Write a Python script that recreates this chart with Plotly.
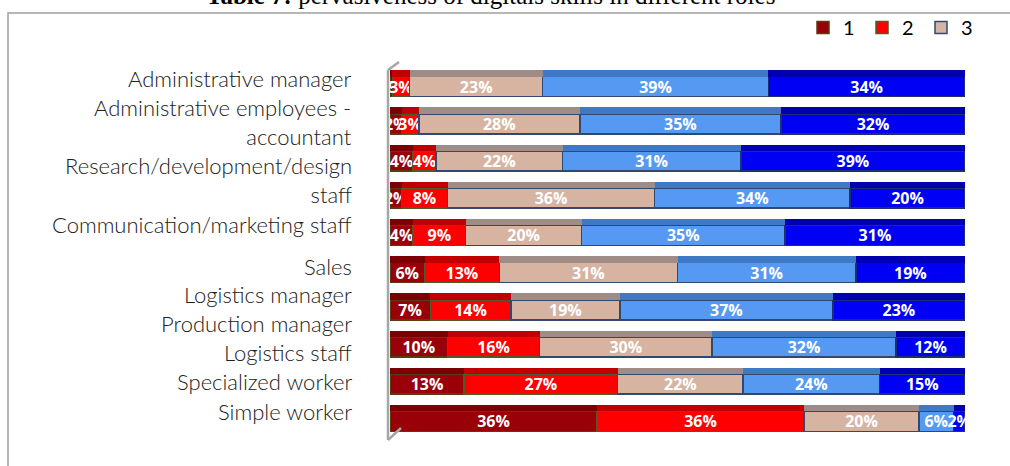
import plotly.graph_objects as go

categories = [
    "Administrative manager",
    "Administrative employees -<br>accountant",
    "Research/development/design<br>staff",
    "Communication/marketing staff",
    "Sales",
    "Logistics manager",
    "Production manager",
    "Logistics staff",
    "Specialized worker",
    "Simple worker",
]
series_names = ["1", "2", "3", "4", "5"]
s1 = [0.4, 2, 4, 2, 4, 6, 7, 10, 13, 36]
s2 = [3, 3, 4, 8, 9, 13, 14, 16, 27, 36]
s3 = [23, 28, 22, 36, 20, 31, 19, 30, 22, 20]
s4 = [39, 35, 31, 34, 35, 31, 37, 32, 24, 6]
s5 = [34, 32, 39, 20, 31, 19, 23, 12, 15, 2]
values = [s1, s2, s3, s4, s5]

colors = ["#990008", "#FF0000", "#D7B4A2", "#5599F2", "#0000F5"]
top_colors = ["#7A0006", "#C00000", "#A08C86", "#3F78C4", "#0000B0"]
line_colors = ["#5C3A14", "#4F5A2A", "#2F4A6E", "#2F4A6E", "#1F2F6E"]
show_leg = [True, True, True, False, False]

W, H = 1010, 466
L, R, T, B = 390, 965, 68, 440

def px(x):
    return (x - L) / (R - L)

def py(y):
    return (B - y) / (B - T)

ids = list(range(len(categories)))

fig = go.Figure()
# top faces of the 3-D bars (thin strips drawn on an overlaid axis)
for name, vals, c in zip(series_names, values, top_colors):
    fig.add_trace(go.Bar(
        y=ids, x=vals, name=name, orientation="h", yaxis="y2",
        marker=dict(color=c, line=dict(color=c, width=0)),
        width=0.17, offset=-0.44, showlegend=False, hoverinfo="skip",
    ))
# front faces
for name, vals, c, lc, sl in zip(series_names, values, colors, line_colors, show_leg):
    fig.add_trace(go.Bar(
        y=ids, x=vals, name=name, orientation="h",
        marker=dict(color=c, line=dict(color=lc, width=1.5)),
        text=vals, texttemplate="%{text:.0f}%", textposition="inside",
        insidetextanchor="middle", textangle=0, constraintext="none",
        textfont=dict(family="Open Sans", size=16, color="white", weight="bold"),
        showlegend=sl, cliponaxis=False,
    ))

# category labels, placed as in the reference image
label_centers = [79, 122, 180, 225, 266, 294, 323, 352, 381, 411]
annotations = []
for cat, yc in zip(categories, label_centers):
    annotations.append(dict(
        text=cat, xref="paper", yref="paper", x=px(354), y=py(yc),
        xanchor="right", yanchor="middle", align="right", showarrow=False,
        font=dict(family="Lato", size=22, color="#202020", weight=300),
    ))
# title (cut off at top in reference)
annotations.append(dict(
    text="<b>Table 7:</b> pervasiveness of digitals skills in different roles",
    xref="paper", yref="paper", x=px(490), y=py(-4), xanchor="center", yanchor="middle",
    showarrow=False, font=dict(family="Liberation Serif", size=25, color="black"),
))

shapes = [
    dict(type="rect", xref="paper", yref="paper", x0=px(8), x1=px(1012), y0=py(470), y1=py(13),
         line=dict(color="#A0A0A0", width=1.5), fillcolor="rgba(0,0,0,0)", layer="below"),
    dict(type="line", xref="paper", yref="paper", x0=px(388), x1=px(388), y0=py(440), y1=py(70),
         line=dict(color="#A6A6A6", width=2.5)),
    dict(type="line", xref="paper", yref="paper", x0=px(388), x1=px(401), y0=py(440), y1=py(428),
         line=dict(color="#A6A6A6", width=2.5)),
    dict(type="line", xref="paper", yref="paper", x0=px(388), x1=px(399), y0=py(70), y1=py(62),
         line=dict(color="#A6A6A6", width=2.5)),
]

fig.update_layout(
    width=W, height=H, barmode="stack", barnorm="percent", bargap=0.46,
    margin=dict(l=L, r=W - R, t=T, b=H - B, autoexpand=False),
    paper_bgcolor="white", plot_bgcolor="white",
    xaxis=dict(range=[0, 100], visible=False, fixedrange=True),
    yaxis=dict(range=[9.5, -0.5], showticklabels=False, showgrid=False, zeroline=False),
    yaxis2=dict(range=[9.5, -0.5], overlaying="y", visible=False),
    legend=dict(orientation="h", x=px(803), y=py(8), xanchor="left", yanchor="top",
                traceorder="normal", itemwidth=30,
                font=dict(family="Lato", size=20, color="black"),
                entrywidth=14, entrywidthmode="pixels", bgcolor="rgba(0,0,0,0)"),
    annotations=annotations, shapes=shapes,
    showlegend=True,
)

fig.write_html("out.html", config={"displayModeBar": False},
               post_script="document.body.style.margin='0';")
